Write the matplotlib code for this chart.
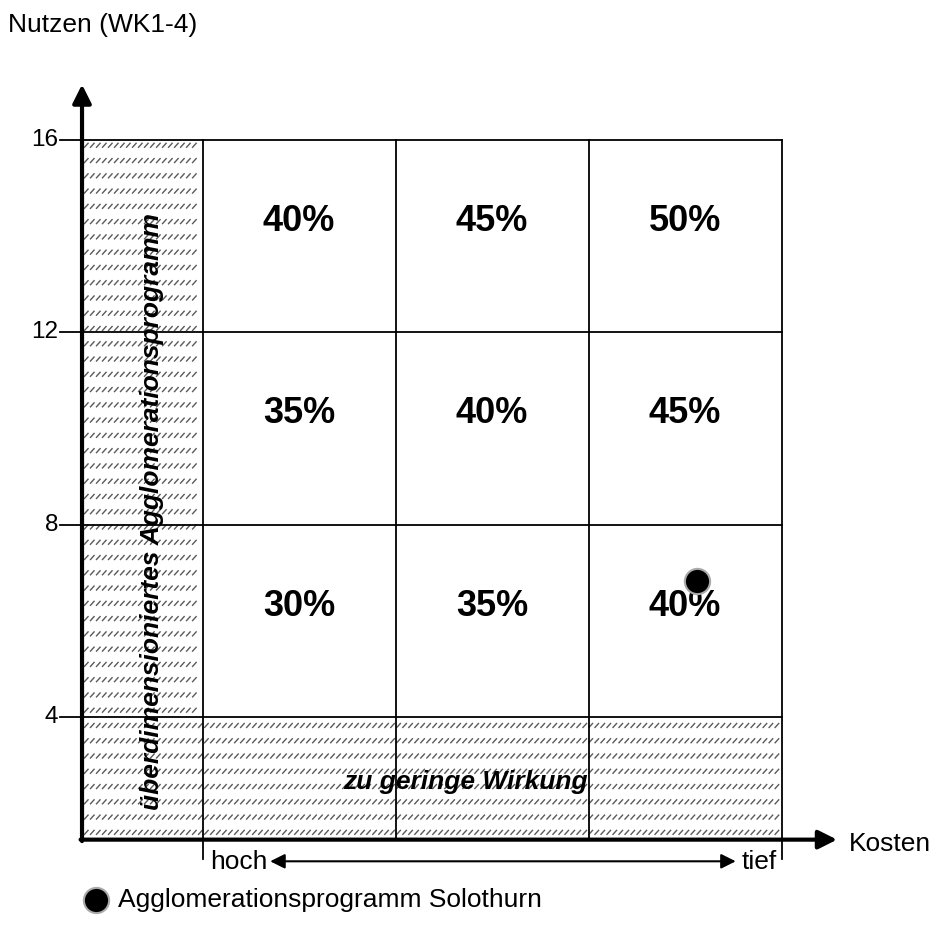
import matplotlib
matplotlib.use("Agg")
import matplotlib.pyplot as plt
import numpy as np
from matplotlib.collections import LineCollection

plt.rcParams['font.family'] = ['Liberation Sans', 'DejaVu Sans']

# Data
y_ticks = [4, 8, 12, 16]
col_edges = [4, 8, 12, 16]
row_edges = [4, 8, 12, 16]
shares = [["30%", "35%", "40%"],
          ["35%", "40%", "45%"],
          ["40%", "45%", "50%"]]
point_x = [14.25]
point_y = [6.83]
point_label = "Agglomerationsprogramm Solothurn"

fig = plt.figure(figsize=(9.35, 9.27), dpi=100)
ax = fig.add_axes([0, 0, 1, 1])
ax.set_xlim(-0.2, 19.18)
ax.set_ylim(-0.366, 18.906)
ax.axis('off')

x0, y0 = 1.5, 1.45
px = 1 / 48.2  # one pixel in data units

# hatching: rows of short slanted dashes (L-shaped region)
segs = []
row_step = 15.3 * px
dash_step = 6.0 * px
dw, dh = 4.5 * px, 5.0 * px
yr = 16 - 3 * px - dh
while yr > y0 + 1 * px:
    xend = 4 if yr > 4 else 16
    xs = np.arange(x0 + 2 * px, xend - dw, dash_step)
    for xx in xs:
        segs.append([(xx, yr), (xx + dw, yr + dh)])
    yr -= row_step
ax.add_collection(LineCollection(segs, colors='#5a5a5a', linewidths=1.0, zorder=1))

# horizontal grid lines
for y in row_edges:
    ax.plot([1.05, 16], [y, y], color='black', lw=1.3, zorder=2)
# vertical grid lines
for x in col_edges:
    ybot = 1.05 if x in (4, 16) else y0
    ax.plot([x, x], [ybot, 16], color='black', lw=1.3, zorder=2)

# axes arrows
ax.annotate('', xy=(x0, 17.15), xytext=(x0, y0 - 0.03),
            arrowprops=dict(arrowstyle='-|>', lw=3, color='black',
                            mutation_scale=28, shrinkA=0, shrinkB=0), zorder=4)
ax.annotate('', xy=(17.15, y0), xytext=(x0 - 0.03, y0),
            arrowprops=dict(arrowstyle='-|>', lw=3, color='black',
                            mutation_scale=28, shrinkA=0, shrinkB=0), zorder=4)

# y tick labels
for y in y_ticks:
    ax.text(1.0, y, str(y), ha='right', va='center', fontsize=17.5)

ax.text(-0.03, 18.39, "Nutzen (WK1-4)", ha='left', va='center', fontsize=19)
ax.text(17.4, 1.36, "Kosten", ha='left', va='center', fontsize=19)

# percentages
centers = [6, 10, 14]
for r, row in enumerate(shares):
    for c, s in enumerate(row):
        ax.text(centers[c], centers[r] + 0.3, s, ha='center', va='center',
                fontsize=26, fontweight='bold', zorder=3)

# hatched labels
ax.text(2.95, 8.28, "überdimensioniertes Agglomerationsprogramm", rotation=90,
        ha='center', va='center', fontsize=19, fontweight='bold',
        fontstyle='italic', zorder=3)
ax.text(9.45, 2.65, "zu geringe Wirkung", ha='center', va='center',
        fontsize=19, fontweight='bold', fontstyle='italic', zorder=3)

# hoch - tief arrow
ax.annotate('', xy=(5.4, 1.0), xytext=(15.05, 1.0),
            arrowprops=dict(arrowstyle='<|-|>', lw=1.5, color='black',
                            mutation_scale=22, shrinkA=0, shrinkB=0))
ax.text(4.15, 0.98, "hoch", ha='left', va='center', fontsize=19)
ax.text(15.9, 0.98, "tief", ha='right', va='center', fontsize=19)

# point
ax.scatter(point_x, point_y, s=330, color='black', edgecolor='#aaaaaa',
           linewidth=1.5, zorder=5)

# legend
ax.scatter([1.79], [0.2], s=330, color='black', edgecolor='#aaaaaa',
           linewidth=1.5, clip_on=False)
ax.text(2.25, 0.2, point_label, ha='left', va='center', fontsize=19)

fig.savefig("out.png", dpi=100)
